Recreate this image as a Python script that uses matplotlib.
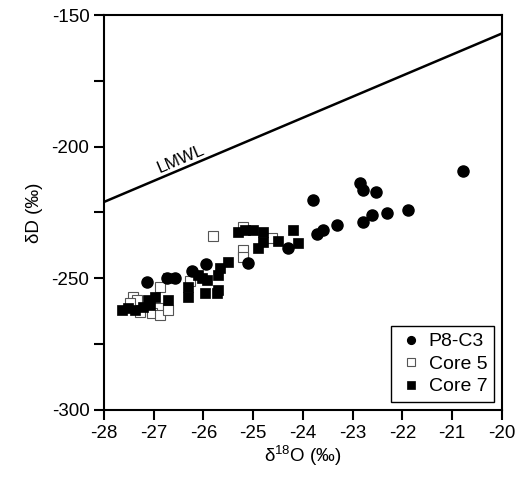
import numpy as np
import matplotlib.pyplot as plt

plt.rcParams['font.family'] = ['Liberation Sans', 'DejaVu Sans']
plt.rcParams['mathtext.fontset'] = 'custom'
plt.rcParams['mathtext.rm'] = 'Liberation Sans'
plt.rcParams['axes.unicode_minus'] = False

# P8-C3 (filled circles)
p8_d18o = [-27.14, -26.73, -26.57, -26.23, -25.95, -25.11, -24.30, -23.72, -23.60, -23.32,
           -23.80, -22.79, -22.61, -22.85, -22.79, -22.53, -22.31, -21.89, -20.78]
p8_dd = [-251.4, -249.9, -249.9, -247.2, -244.6, -244.2, -238.5, -233.2, -231.7, -229.8,
         -220.3, -228.6, -226.0, -213.8, -216.5, -217.2, -225.2, -224.1, -209.2]

# Core 5 (open squares)
core5_d18o = [-25.81, -25.21, -25.21, -25.21, -24.62, -26.71, -26.87, -26.27, -27.42, -27.34,
              -26.91, -27.04, -26.87, -26.71, -27.28, -27.48]
core5_dd = [-233.9, -230.5, -239.3, -241.9, -234.7, -249.9, -253.3, -251.0, -257.1, -258.2,
            -261.3, -263.2, -263.9, -262.0, -262.8, -259.5]

# Core 7 (filled squares)
core7_d18o = [-27.64, -27.52, -27.38, -27.22, -27.12, -26.97, -27.08, -26.71, -26.31, -26.31,
              -26.11, -26.03, -25.97, -25.73, -25.71, -25.71, -25.93, -25.67, -25.51, -25.31,
              -25.17, -25.00, -24.80, -24.80, -24.90, -24.50, -24.20, -24.10]
core7_dd = [-262.0, -261.3, -262.0, -260.9, -258.2, -257.1, -260.1, -258.2, -253.3, -257.1,
            -248.7, -249.9, -255.6, -255.6, -248.7, -254.4, -250.6, -246.1, -243.8, -232.4,
            -231.7, -231.7, -232.4, -236.2, -238.5, -235.8, -231.7, -236.6]

# local meteoric water line
lmwl_x = np.array([-28, -20])
lmwl_slope, lmwl_intercept = 8, 3

fig = plt.figure(figsize=(5.21, 4.78), dpi=100)
ax = fig.add_axes([0.1996, 0.1423, 0.7639, 0.8263])

ax.plot(lmwl_x, lmwl_slope * lmwl_x + lmwl_intercept, color='black', lw=1.8, zorder=2)
lx = -26.4
ax.text(lx, lmwl_slope * lx + lmwl_intercept + 0.8, 'LMWL', fontsize=12.5, rotation=23,
        rotation_mode='anchor', ha='center', va='bottom')

ax.plot(core5_d18o, core5_dd, 's', ms=7.5, mfc='white', mec='#555555', mew=0.8,
        label='Core 5', zorder=3)
ax.plot(core7_d18o, core7_dd, 's', ms=7.5, mfc='black', mec='black', mew=0.5,
        label='Core 7', zorder=4)
ax.plot(p8_d18o, p8_dd, 'o', ms=8, mfc='black', mec='black', label='P8-C3', zorder=5)

ax.set_xlim(-28, -20)
ax.set_ylim(-300, -150)
ax.set_xticks(np.arange(-28, -19, 1))
ax.set_yticks([-300, -250, -200, -150])
ax.set_yticks([-275, -225, -175], minor=True)
ax.tick_params(axis='both', which='both', direction='out', length=7, width=1.5,
               labelsize=13.5, top=False, right=False)
ax.tick_params(axis='x', pad=4)
for s in ax.spines.values():
    s.set_linewidth(1.5)

ax.set_xlabel(r'δ$^{\mathrm{18}}$O (‰)', fontsize=13.5, labelpad=1)
ax.set_ylabel('δD (‰)', fontsize=13.5, labelpad=6)

handles, labels = ax.get_legend_handles_labels()
order = [2, 0, 1]
leg = ax.legend([handles[i] for i in order], [labels[i] for i in order], loc='lower right',
                fontsize=14, markerscale=0.7, handletextpad=0.2, handlelength=1.4,
                borderpad=0.35, labelspacing=0.25, borderaxespad=0.4, fancybox=False,
                edgecolor='black', framealpha=1)
leg.get_frame().set_linewidth(1.0)

fig.savefig('out.png', dpi=100)
